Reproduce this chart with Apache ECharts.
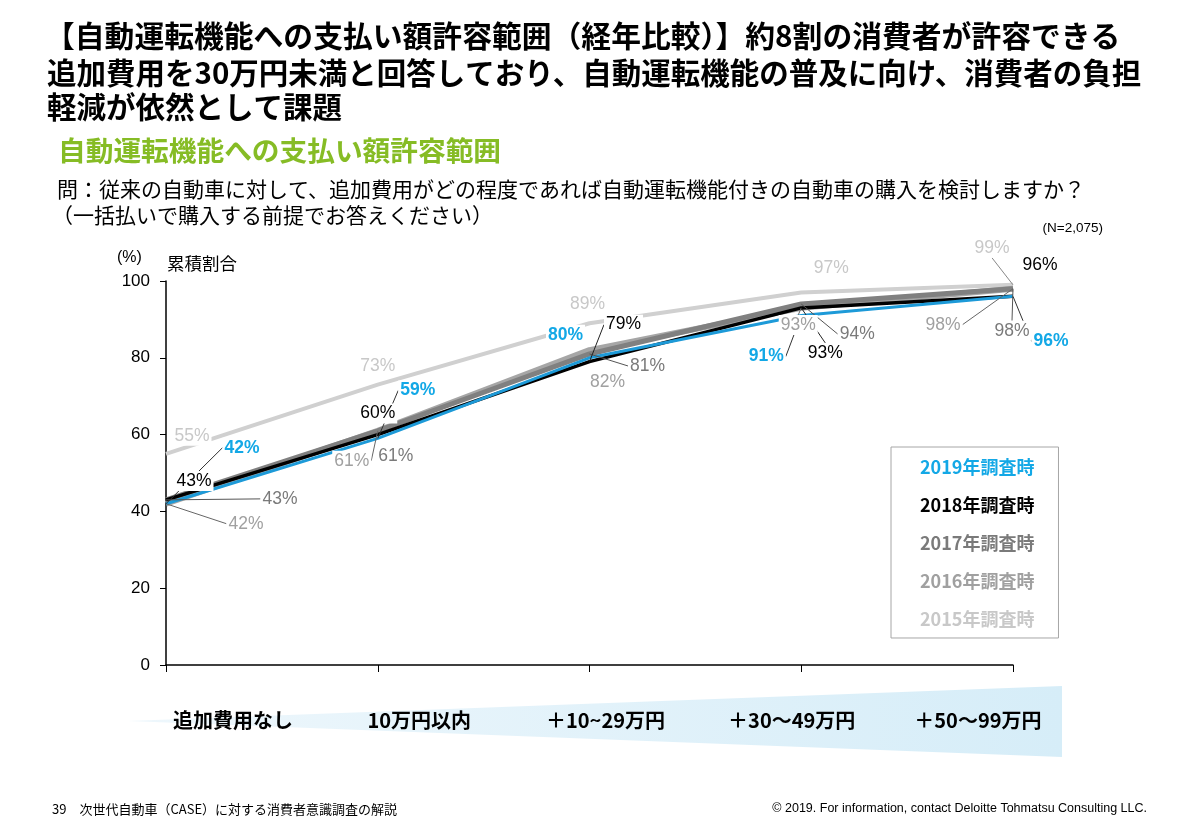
<!DOCTYPE html>
<html><head><meta charset="utf-8">
<script src="https://cdn.jsdelivr.net/npm/echarts@6/dist/echarts.min.js"></script>
<style>html,body{margin:0;padding:0;background:#fff;}#c{width:1197px;height:824px;}</style>
</head><body><div id="c"></div>
<script>
// ---------- data ----------
const categories = ['追加費用なし', '10万円以内', '＋10~29万円', '＋30～49万円', '＋50～99万円'];
const seriesNames = ['2019年調査時', '2018年調査時', '2017年調査時', '2016年調査時', '2015年調査時'];
const v2019 = [42, 59, 80, 91, 96];
const v2018 = [43, 60, 79, 93, 96];
const v2017 = [43, 61, 81, 94, 98];
const v2016 = [42, 61, 82, 93, 98];
const v2015 = [55, 73, 89, 97, 99];
const yTicks = [0, 20, 40, 60, 80, 100];

// ---------- styles ----------
const CJK = '"Noto Sans CJK JP", sans-serif';
const LAT = '"Liberation Sans", Arial, sans-serif';
const styles = {
  '2019年調査時': { line: '#1d9ad8', text: '#13a8e6', width: 3,   bold: true,  guide: '#333' },
  '2018年調査時': { line: '#000000', text: '#000000', width: 3.5, bold: false, guide: '#222' },
  '2017年調査時': { line: '#808080', text: '#7a7a7a', width: 5,   bold: false, guide: '#555' },
  '2016年調査時': { line: '#a6a6a6', text: '#a0a0a0', width: 6,   bold: false, guide: '#666' },
  '2015年調査時': { line: '#d0d0d0', text: '#c8c8c8', width: 4,   bold: false, guide: '#888' }
};
// label offsets (px from the point) and whether a guide line is drawn
const labelPos = {
  '2019年調査時': [[76, -56, 1], [40, -48, 1], [-24, -23, 0], [-35, 41, 1], [38, 45, 1]],
  '2018年調査時': [[28, -19, 0], [0, -21, 0], [34, -37, 1], [24, 45, 1], [27, -31, 0]],
  '2017年調査時': [[114, -1, 1], [18, 25, 0], [58, 12, 1], [56, 30, 1], [-1, 42, 1]],
  '2016年調査時': [[80, 20, 1], [-26, 30, 1], [18, 32, 0], [-3, 17, 1], [-70, 36, 1]],
  '2015年調査時': [[26, -18, 0], [0, -19, 0], [-2, -19, 0], [30, -24, 0], [-21, -37, 1]]
};
const dataByName = {
  '2019年調査時': v2019, '2018年調査時': v2018, '2017年調査時': v2017,
  '2016年調査時': v2016, '2015年調査時': v2015
};
const drawOrder = ['2015年調査時', '2016年調査時', '2017年調査時', '2018年調査時', '2019年調査時'];

const series = drawOrder.map(function (name) {
  const st = styles[name];
  return {
    name: name,
    type: 'line',
    xAxisIndex: 0, yAxisIndex: 0,
    data: dataByName[name].map(function (v, i) {
      return { value: v, labelLine: { show: !!labelPos[name][i][2] } };
    }),
    symbol: 'circle',
    symbolSize: 0.1,
    showSymbol: true,
    lineStyle: { color: st.line, width: st.width },
    itemStyle: { color: st.line },
    label: {
      show: true,
      position: 'inside',
      formatter: '{c}%',
      color: st.text,
      fontFamily: LAT,
      fontSize: 17.5,
      fontWeight: st.bold ? 'bold' : 'normal',
      backgroundColor: '#fff',
      padding: [1, 2]
    },
    labelLine: { show: true, lineStyle: { color: st.guide, width: 1 } },
    labelLayout: function (p) {
      const off = labelPos[name][p.dataIndex];
      const cx = p.rect.x + p.rect.width / 2;
      const cy = p.rect.y + p.rect.height / 2;
      return { x: cx + off[0], y: cy + off[1], align: 'center', verticalAlign: 'middle' };
    },
    emphasis: { disabled: true },
    animation: false
  };
});

function txt(x, y, text, size, opts) {
  opts = opts || {};
  return {
    type: 'text', x: x, y: y, z: 10,
    style: {
      text: text, fontSize: size, fontFamily: opts.family || CJK,
      fontWeight: opts.bold ? 'bold' : 'normal', fill: opts.color || '#000',
      textAlign: opts.align || 'left', textVerticalAlign: 'middle'
    }
  };
}

const chart = echarts.init(document.getElementById('c'), null, { renderer: 'canvas' });
chart.setOption({
  backgroundColor: '#fff',
  animation: false,
  grid: [
    { left: 166, right: 184, top: 281, bottom: 159 },
    { left: 140, right: 126, top: 700, height: 1 }
  ],
  xAxis: [
    {
      gridIndex: 0, type: 'category', data: categories, boundaryGap: false,
      axisLine: { lineStyle: { color: '#000', width: 1.5 } },
      axisTick: { show: true, length: 7, lineStyle: { color: '#000', width: 1 } },
      axisLabel: { show: false }, splitLine: { show: false }
    },
    {
      gridIndex: 1, type: 'category', data: categories, boundaryGap: true,
      axisLine: { show: false }, axisTick: { show: false },
      axisLabel: { margin: 9, fontSize: 20, fontWeight: 'bold', color: '#000', fontFamily: CJK }
    }
  ],
  yAxis: [
    {
      gridIndex: 0, type: 'value', min: yTicks[0], max: yTicks[yTicks.length - 1], interval: 20,
      axisLine: { show: true, lineStyle: { color: '#000', width: 1.5 } },
      axisTick: { show: true, length: 6, lineStyle: { color: '#000' } },
      axisLabel: { margin: 16, fontSize: 17, color: '#000', fontFamily: LAT },
      splitLine: { show: false }
    },
    { gridIndex: 1, type: 'value', show: false }
  ],
  legend: {
    orient: 'vertical',
    left: 891, top: 447,
    padding: [11, 24, 10, 24],
    itemGap: 20,
    itemWidth: 0, itemHeight: 0,
    icon: 'rect',
    borderColor: '#a6a6a6', borderWidth: 1,
    selectedMode: false,
    data: seriesNames.map(function (n) {
      return { name: n, textStyle: { color: styles[n].text, fontWeight: 'bold', fontSize: 18, fontFamily: CJK } };
    })
  },
  series: series,
  graphic: [
    {
      type: 'polygon', z: -1, silent: true,
      shape: { points: [[128, 721], [1062, 686], [1062, 757]] },
      style: {
        fill: new echarts.graphic.LinearGradient(0, 0, 1, 0, [
          { offset: 0, color: '#eef7fc' }, { offset: 1, color: '#d6edf8' }
        ])
      }
    },
    txt(45, 36, '【自動運転機能への支払い額許容範囲（経年比較）】約8割の消費者が許容できる', 29.8, { bold: true }),
    txt(47, 73, '追加費用を30万円未満と回答しており、自動運転機能の普及に向け、消費者の負担', 29.5, { bold: true }),
    txt(47, 107, '軽減が依然として課題', 29.5, { bold: true }),
    txt(58, 150, '自動運転機能への支払い額許容範囲', 27.7, { bold: true, color: '#86bc25' }),
    txt(57, 189, '問：従来の自動車に対して、追加費用がどの程度であれば自動運転機能付きの自動車の購入を検討しますか？', 21),
    txt(52, 215, '（一括払いで購入する前提でお答えください）', 21),
    txt(1103, 228, '(N=2,075)', 13.5, { family: LAT, align: 'right' }),
    txt(117, 258, '(%)', 16, { family: LAT }),
    txt(167, 263, '累積割合', 17.5),
    txt(52, 809, '39　次世代自動車（CASE）に対する消費者意識調査の解説', 13),
    txt(1147, 809, '© 2019. For information, contact Deloitte Tohmatsu Consulting LLC.', 12.5, { family: LAT, align: 'right' })
  ]
});
</script>
</body></html>
